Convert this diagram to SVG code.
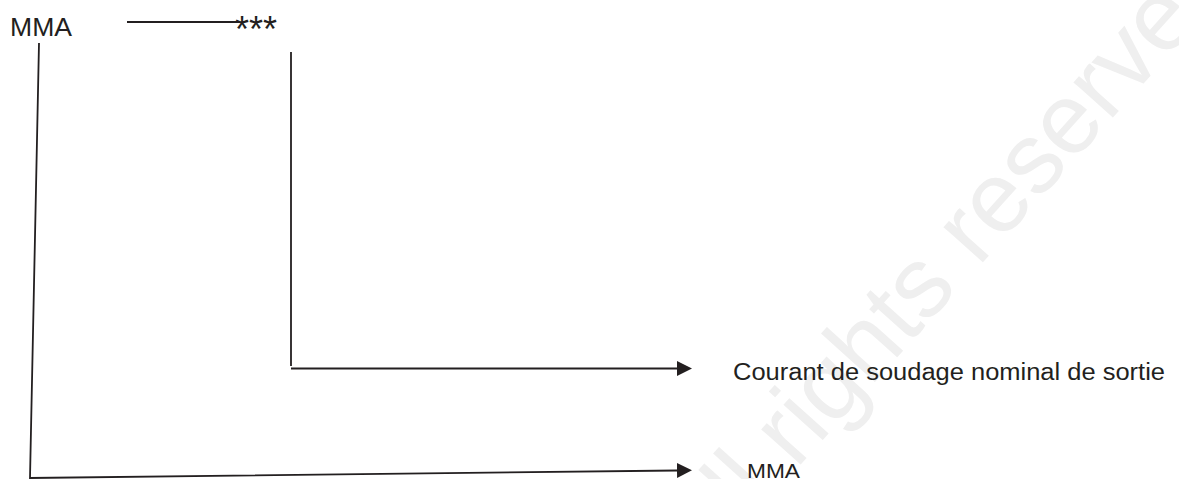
<svg xmlns="http://www.w3.org/2000/svg" width="1179" height="479" viewBox="0 0 1179 479">
  <style>
    .line { fill: none; stroke: #231f20; stroke-width: 1.8; }
    .lbl { font-family: "Liberation Sans", Arial, sans-serif; fill: #231f20; }
    .wm { font-family: "Liberation Sans", Arial, sans-serif; font-size: 100px; fill: #efefef; }
  </style>
  <defs>
    <marker id="arrow" markerUnits="userSpaceOnUse" markerWidth="15" markerHeight="15" refX="0" refY="7.5" orient="auto">
      <path d="M0,0 L15,7.5 L0,15 Z" fill="#231f20"/>
    </marker>
  </defs>
  <rect width="1179" height="479" fill="#ffffff"/>
  <text class="wm" transform="translate(703,573) rotate(-48)" x="0" y="0">All rights reserved</text>

  <g id="connectors">
    <path class="line" d="M127,22 L240,22"/>
    <path class="line" d="M291,52 L291,366"/>
    <path class="line" d="M291,368.5 L677,368.5" marker-end="url(#arrow)"/>
    <path class="line" d="M39,43 L30,478 L677,470.5" marker-end="url(#arrow)"/>
  </g>

  <g id="node-mma-top">
    <text class="lbl" x="10" y="36" font-size="26" textLength="62" lengthAdjust="spacingAndGlyphs">MMA</text>
  </g>
  <g id="node-stars">
    <text class="lbl" x="235" y="42" font-size="36">***</text>
  </g>
  <g id="node-courant">
    <text class="lbl" x="733" y="380" font-size="23" textLength="432" lengthAdjust="spacingAndGlyphs">Courant de soudage nominal de sortie</text>
  </g>
  <g id="node-mma-bottom">
    <text class="lbl" x="747" y="478" font-size="21" textLength="53" lengthAdjust="spacingAndGlyphs">MMA</text>
  </g>
</svg>
